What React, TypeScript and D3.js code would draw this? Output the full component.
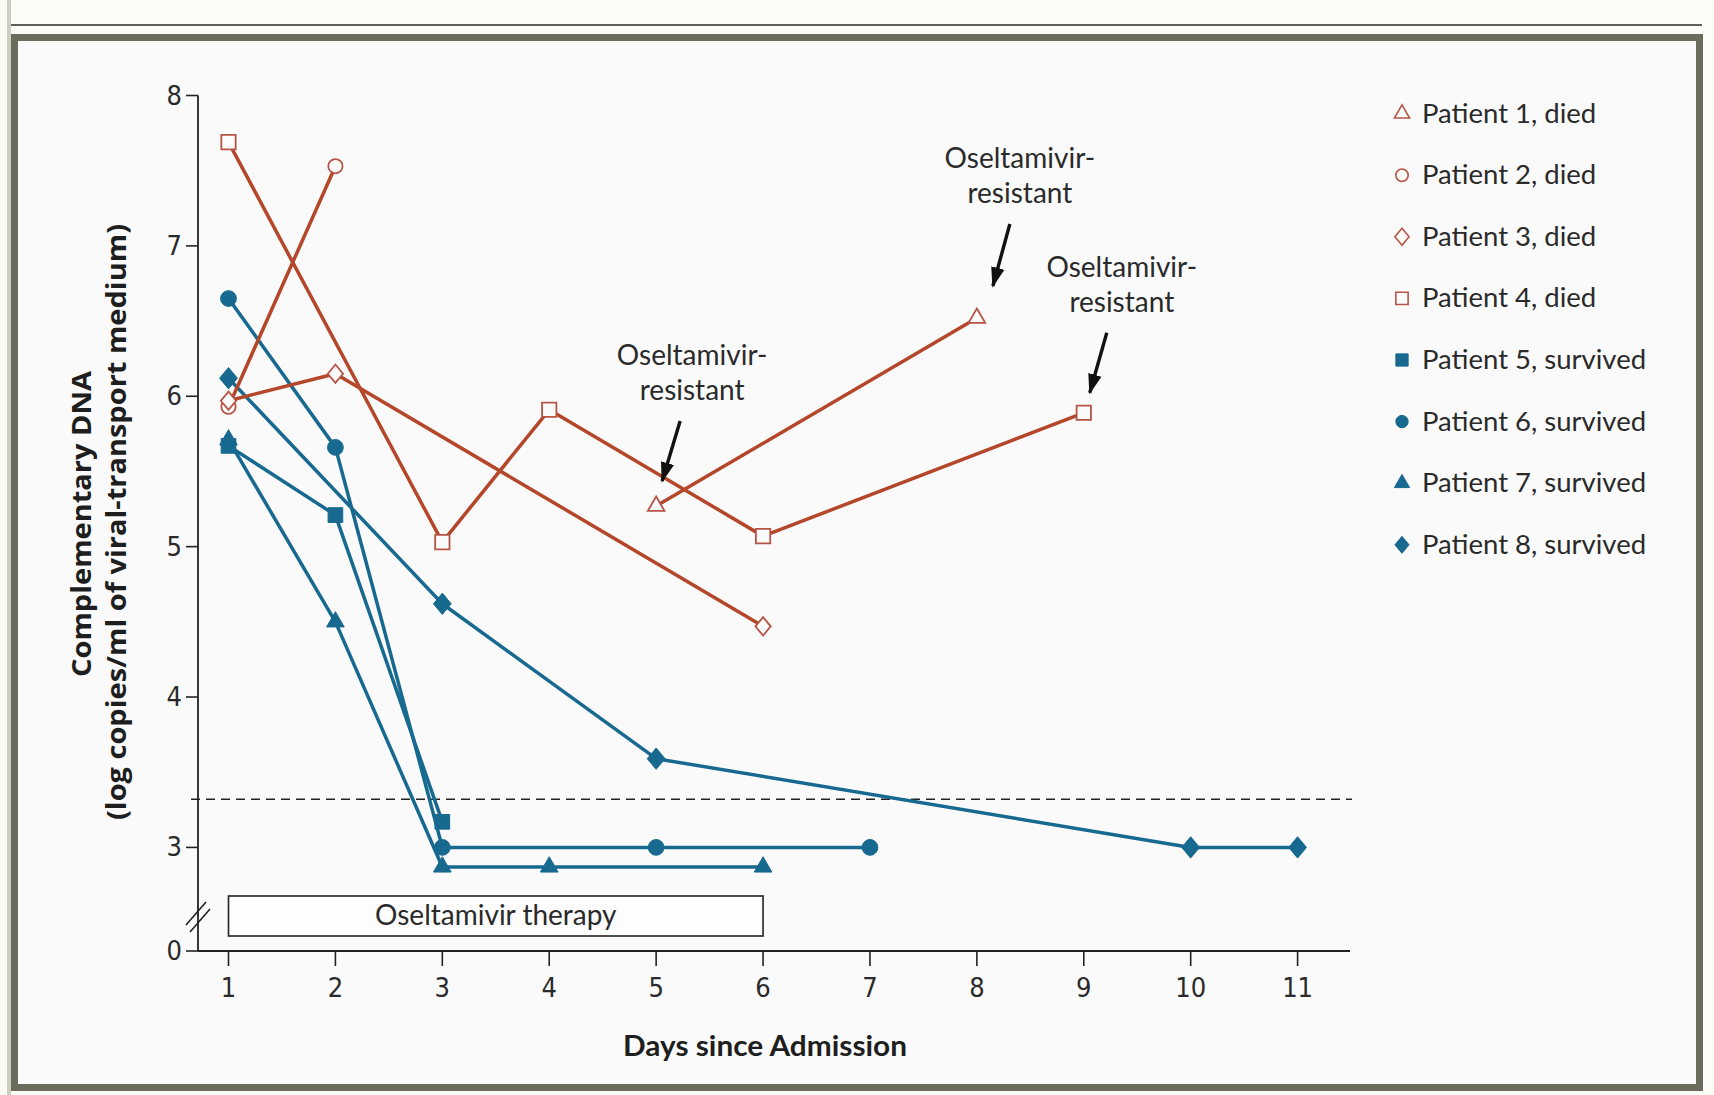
import React from "react";
import * as d3 from "d3";

// ---------- data ----------
const dayTicks = [1, 2, 3, 4, 5, 6, 7, 8, 9, 10, 11];
const yTickValues = [0, 3, 4, 5, 6, 7, 8];
const detectionLimit = 3.32;
const therapyStart = 1;
const therapyEnd = 6;

const patientNames = [
  "Patient 1, died",
  "Patient 2, died",
  "Patient 3, died",
  "Patient 4, died",
  "Patient 5, survived",
  "Patient 6, survived",
  "Patient 7, survived",
  "Patient 8, survived",
];
const patientDied = [true, true, true, true, false, false, false, false];
const patientShapes = ["triangle", "circle", "diamond", "square", "square", "circle", "triangle", "diamond"];

const p1Days = [5, 8];
const p1Vals = [5.27, 6.52];
const p2Days = [1, 2];
const p2Vals = [5.93, 7.53];
const p3Days = [1, 2, 6];
const p3Vals = [5.97, 6.15, 4.47];
const p4Days = [1, 3, 4, 6, 9];
const p4Vals = [7.69, 5.03, 5.91, 5.07, 5.89];
const p5Days = [1, 2, 3];
const p5Vals = [5.67, 5.21, 3.17];
const p6Days = [1, 2, 3, 5, 7];
const p6Vals = [6.65, 5.66, 3.0, 3.0, 3.0];
const p7Days = [1, 2, 3, 4, 6];
const p7Vals = [5.71, 4.5, 2.87, 2.87, 2.87];
const p8Days = [1, 3, 5, 10, 11];
const p8Vals = [6.12, 4.62, 3.59, 3.0, 3.0];

const allDays = [p1Days, p2Days, p3Days, p4Days, p5Days, p6Days, p7Days, p8Days];
const allVals = [p1Vals, p2Vals, p3Vals, p4Vals, p5Vals, p6Vals, p7Vals, p8Vals];

// annotations: patient index and day the arrow points to
const annotationLines = ["Oseltamivir-", "resistant"];
const annotationPatient = [0, 0, 3];
const annotationDay = [5, 8, 9];

// ---------- layout ----------
const W = 1714;
const H = 1095;
const RED = "#b4472a";
const RED_MARK = "#b65446";
const BLUE = "#176990";
const TEXT = "#2a2a2a";
const FONT = "Lato, 'Open Sans', sans-serif";
const NUMFONT = "'Liberation Sans Narrow', 'DejaVu Sans Condensed', sans-serif";

const axisX = 198;
const axisY = 951;

const x = d3.scaleLinear().domain([1, 11]).range([228.5, 1297.6]);
const y = d3.scaleLinear().domain([0, 2.5, 8]).range([951, 922.6, 95.5]);

// arrow layout offsets from target point: [tipDx, tipDy, tailDx, tailDy, textDx]
const annotationLayout = [
  [6, -25, 24, -85, 36],
  [16, -32, 33, -94, 43],
  [6, -20, 23, -80, 38],
];

const wideDiamond = {
  draw(context: any, size: number) {
    const w = Math.sqrt((2 * size) / 1.2) / 2;
    const h = w * 1.2;
    context.moveTo(0, -h);
    context.lineTo(w, 0);
    context.lineTo(0, h);
    context.lineTo(-w, 0);
    context.closePath();
  },
};

const symbolTypes: Record<string, any> = {
  triangle: d3.symbolTriangle,
  circle: d3.symbolCircle,
  diamond: wideDiamond,
  square: d3.symbolSquare,
};
const plotSizes: Record<string, number> = { triangle: 135, circle: 195, diamond: 190, square: 215 };
const openSizes: Record<string, number> = { triangle: 120, circle: 160, diamond: 140, square: 205 };
const legendSizes: Record<string, number> = { triangle: 100, circle: 120, diamond: 120, square: 150 };

function symbolPath(shape: string, size: number) {
  return d3.symbol().type(symbolTypes[shape]).size(size)() as string;
}

const lineGen = d3
  .line<[number, number]>()
  .x((d) => x(d[0]))
  .y((d) => y(d[1]));

export default function App() {
  const order = [4, 5, 6, 7, 0, 1, 2, 3];
  const legendY0 = 112.6;
  const legendStep = 61.6;

  return (
    <svg
      width={W}
      height={H}
      viewBox={`0 0 ${W} ${H}`}
      style={{ position: "absolute", left: 0, top: 0, display: "block" }}
    >
      <defs>
        <marker
          id="ah"
          viewBox="0 0 12 8"
          refX={11}
          refY={4}
          markerWidth={6}
          markerHeight={4.2}
          orient="auto"
          markerUnits="strokeWidth"
        >
          <path d="M0,0 L12,4 L0,8 z" fill="#111" />
        </marker>
      </defs>

      {/* page background */}
      <rect x={0} y={0} width={W} height={H} fill="#fcfbf5" />
      <rect x={7} y={0} width={4} height={H} fill="#cfcdbf" />
      <line x1={11} x2={1702} y1={25} y2={25} stroke="#2b2b2b" strokeWidth={1.6} />
      {/* frame */}
      <rect x={14.5} y={37.5} width={1685} height={1050} fill="#fafafa" stroke="#6c6c5c" strokeWidth={7} />

      {/* dashed detection limit */}
      <line
        x1={191}
        x2={1352}
        y1={y(detectionLimit)}
        y2={y(detectionLimit)}
        stroke="#222"
        strokeWidth={1.6}
        strokeDasharray="9,6"
      />

      {/* axes */}
      <line x1={axisX} x2={axisX} y1={y(8)} y2={axisY} stroke="#222" strokeWidth={1.8} />
      <line x1={axisX} x2={1350} y1={axisY} y2={axisY} stroke="#222" strokeWidth={1.8} />
      {/* axis break */}
      <line x1={186} x2={206} y1={925} y2={902} stroke="#222" strokeWidth={1.6} />
      <line x1={190} x2={210} y1={932} y2={909} stroke="#222" strokeWidth={1.6} />

      {yTickValues.map((v) => (
        <g key={"yt" + v}>
          <line x1={axisX - 12} x2={axisX} y1={y(v)} y2={y(v)} stroke="#222" strokeWidth={1.6} />
          <text
            x={axisX - 16}
            y={y(v) + 9}
            textAnchor="end"
            fontFamily={NUMFONT}
            fontSize={27}
            fill={TEXT}
          >
            {v}
          </text>
        </g>
      ))}
      {dayTicks.map((d) => (
        <g key={"xt" + d}>
          <line x1={x(d)} x2={x(d)} y1={axisY} y2={axisY + 15} stroke="#222" strokeWidth={1.6} />
          <text x={x(d)} y={997} textAnchor="middle" fontFamily={NUMFONT} fontSize={27} fill={TEXT}>
            {d}
          </text>
        </g>
      ))}

      {/* axis titles */}
      <text
        x={765}
        y={1056}
        textAnchor="middle"
        fontFamily={FONT}
        fontWeight={700}
        fontSize={29}
        fill="#1e1e1e"
        textLength={284}
        lengthAdjust="spacingAndGlyphs"
      >
        Days since Admission
      </text>
      <g transform="translate(91,524) rotate(-90)">
        <text
          x={0}
          y={0}
          textAnchor="middle"
          fontFamily="'Open Sans', sans-serif"
          fontWeight={700}
          fontSize={26}
          fill="#1e1e1e"
          textLength={306}
          lengthAdjust="spacingAndGlyphs"
        >
          Complementary DNA
        </text>
      </g>
      <g transform="translate(126,522) rotate(-90)">
        <text
          x={0}
          y={0}
          textAnchor="middle"
          fontFamily="'Open Sans', sans-serif"
          fontWeight={700}
          fontSize={26}
          fill="#1e1e1e"
          textLength={596}
          lengthAdjust="spacingAndGlyphs"
        >
          (log copies/ml of viral-transport medium)
        </text>
      </g>

      {/* therapy box */}
      <rect
        x={x(therapyStart)}
        y={896}
        width={x(therapyEnd) - x(therapyStart)}
        height={40}
        fill="#fdfdfd"
        stroke="#222"
        strokeWidth={1.6}
      />
      <text
        x={(x(therapyStart) + x(therapyEnd)) / 2}
        y={925}
        textAnchor="middle"
        fontFamily={FONT}
        fontSize={28}
        fill={TEXT}
      >
        Oseltamivir therapy
      </text>

      {/* lines */}
      {order.map((i) => {
        const pts = allDays[i].map((d, k) => [d, allVals[i][k]] as [number, number]);
        return (
          <path
            key={"l" + i}
            d={lineGen(pts) as string}
            fill="none"
            stroke={patientDied[i] ? RED : BLUE}
            strokeWidth={3.5}
            strokeLinejoin="round"
          />
        );
      })}
      {/* markers */}
      {order.map((i) =>
        allDays[i].map((d, k) => {
          const shape = patientShapes[i];
          const died = patientDied[i];
          return (
            <path
              key={"m" + i + "-" + k}
              d={symbolPath(shape, died ? openSizes[shape] : plotSizes[shape])}
              transform={`translate(${x(d)},${y(allVals[i][k])})`}
              fill={died ? "#fbfbfb" : BLUE}
              stroke={died ? RED_MARK : BLUE}
              strokeWidth={died ? 1.8 : 1}
            />
          );
        })
      )}

      {/* annotations */}
      {annotationPatient.map((p, a) => {
        const k = allDays[p].indexOf(annotationDay[a]);
        const px = x(annotationDay[a]);
        const py = y(allVals[p][k]);
        const [tdx, tdy, sdx, sdy, txdx] = annotationLayout[a];
        return (
          <g key={"an" + a}>
            <line
              x1={px + sdx}
              y1={py + sdy}
              x2={px + tdx}
              y2={py + tdy}
              stroke="#111"
              strokeWidth={3.4}
              markerEnd="url(#ah)"
            />
            {annotationLines.map((t, j) => (
              <text
                key={j}
                x={px + txdx}
                y={py + sdy - 21 - (annotationLines.length - 1 - j) * 35}
                textAnchor="middle"
                fontFamily={FONT}
                fontSize={28}
                fill={TEXT}
              >
                {t}
              </text>
            ))}
          </g>
        );
      })}

      {/* legend */}
      {patientNames.map((name, i) => {
        const cy = legendY0 + i * legendStep;
        const shape = patientShapes[i];
        const died = patientDied[i];
        return (
          <g key={"lg" + i}>
            <path
              d={symbolPath(shape, legendSizes[shape])}
              transform={`translate(1402,${cy + 1})`}
              fill={died ? "#fbfbfb" : BLUE}
              stroke={died ? RED_MARK : BLUE}
              strokeWidth={died ? 1.6 : 1}
            />
            <text x={1422} y={cy + 10} fontFamily={FONT} fontSize={27.5} fill={TEXT}>
              {name}
            </text>
          </g>
        );
      })}
    </svg>
  );
}
